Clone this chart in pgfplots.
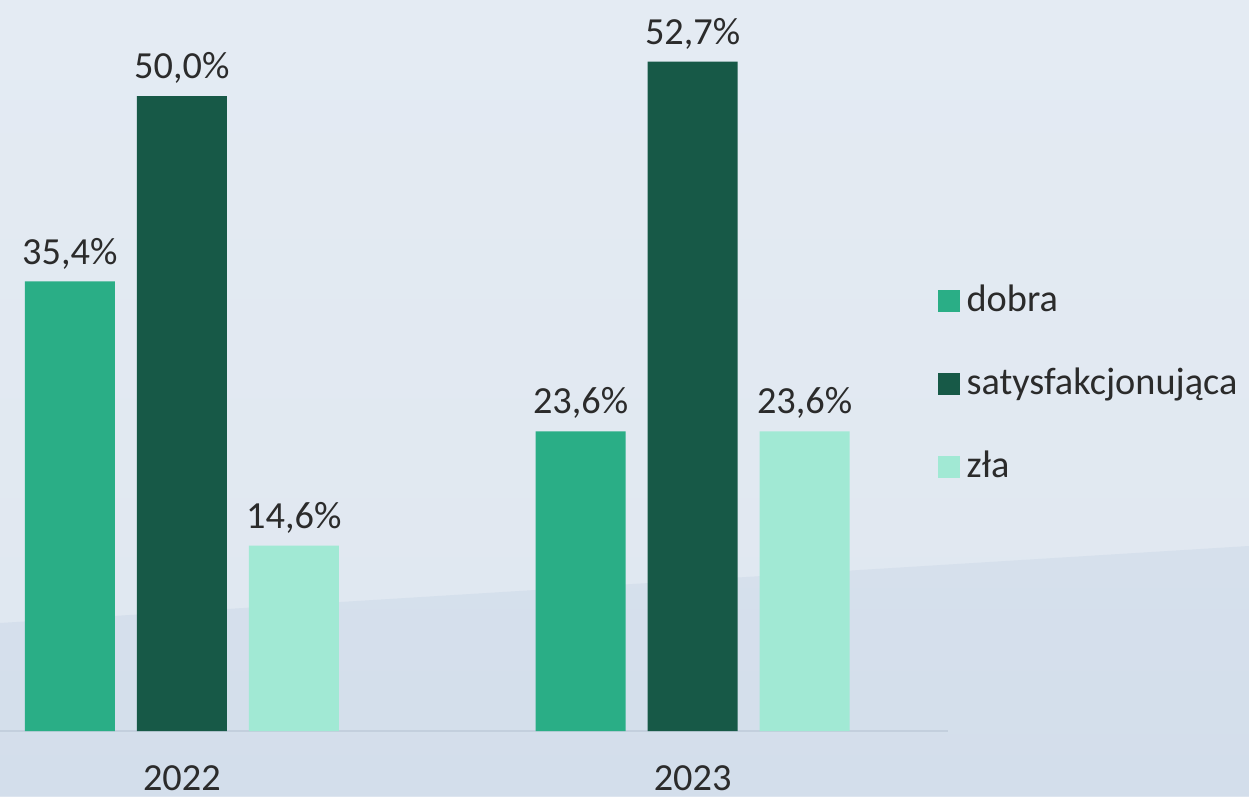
\documentclass[border=0pt]{standalone}
\usepackage{pgfplots}
\pgfplotsset{compat=1.18}
\usepackage{fontspec}
\setmainfont{Carlito}
\definecolor{cA}{HTML}{2AAE86}
\definecolor{cB}{HTML}{175947}
\definecolor{cC}{HTML}{A1E9D4}
\definecolor{txt}{HTML}{2B2B2B}
\definecolor{bgTop}{HTML}{E4EBF3}
\definecolor{bgMid}{HTML}{DFE7F0}
\definecolor{bgLow}{HTML}{D6E0EC}
\definecolor{bgLow2}{HTML}{D3DEEB}
\definecolor{axl}{HTML}{C3CFDD}
\begin{document}
\begin{tikzpicture}[font=\fontsize{10.9}{13}\selectfont]
\useasboundingbox (0,-6.5mm) rectangle (124.9mm,73.1mm);
\shade[top color=bgTop, bottom color=bgMid] (0,-6.5mm) rectangle (124.9mm,73.1mm);
\shade[top color=bgLow, bottom color=bgLow2] (0,-6.5mm) -- (0,10.8mm) -- (124.9mm,18.5mm) -- (124.9mm,-6.5mm) -- cycle;
\begin{axis}[
  at={(0,0)}, anchor=south west,
  scale only axis,
  width=94.8mm, height=73.1mm,
  xmin=-0.356, xmax=1.5,
  ymin=0, ymax=57.56,
  ybar, bar width=9mm,
  axis y line=none,
  axis x line*=bottom,
  x axis line style={axl, line width=0.8pt, -},
  xtick={0,1}, xticklabels={2022,2023},
  major tick length=0pt,
  xticklabel style={text=txt, yshift=-2.2mm},
  nodes near coords,
  point meta=explicit symbolic,
  every node near coord/.append style={text=txt},
  legend style={draw=none, fill=none, at={(0.989,0.475)}, anchor=west,
    row sep=3.7mm, text=txt, font=\fontsize{10.9}{13}\selectfont,
    inner sep=0pt, outer sep=0pt},
  legend cell align=left,
  legend image code/.code={\fill[#1] (0mm,-1.1mm) rectangle (2.2mm,1.1mm);},
]
\addplot[fill=cA, draw=none, bar shift=-11.2mm] coordinates {(0,35.4) [35,4\%] (1,23.6) [23,6\%]};
\addplot[fill=cB, draw=none, bar shift=0mm] coordinates {(0,50.0) [50,0\%] (1,52.7) [52,7\%]};
\addplot[fill=cC, draw=none, bar shift=11.2mm] coordinates {(0,14.6) [14,6\%] (1,23.6) [23,6\%]};
\legend{dobra, satysfakcjonująca, zła}
\end{axis}
\end{tikzpicture}
\end{document}
